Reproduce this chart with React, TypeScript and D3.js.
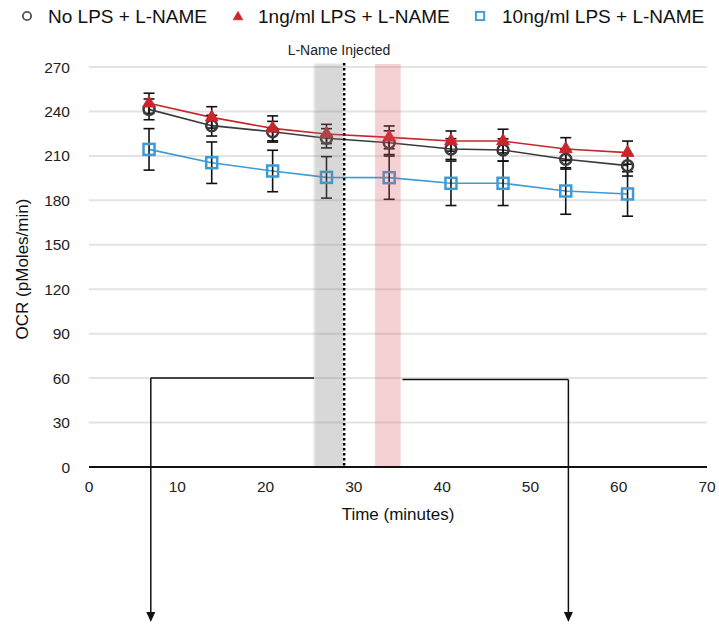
import React from "react";
import * as d3 from "d3";

// Measurement times (minutes)
const times = [6.8, 13.9, 20.8, 26.9, 34.0, 41.0, 46.9, 54.0, 61.0];

// OCR means and error (pMoles/min)
const noLps = [241.4, 230.4, 226.3, 221.9, 218.9, 214.6, 214.0, 207.7, 203.4];
const noLpsErr = [7, 7, 7, 6.5, 8, 7, 7.5, 6.6, 7];
const lps1 = [245.5, 236.0, 228.6, 224.8, 222.5, 220.0, 220.0, 214.6, 212.2];
const lps1Err = [6.8, 7.2, 8.4, 6.5, 7.7, 6.8, 8, 7.7, 7.8];
const lps10 = [214.4, 205.4, 199.8, 195.5, 195.3, 191.5, 191.5, 186.3, 184.3];
const lps10Err = [14, 14, 14, 14, 14.6, 15, 15, 15.7, 15];

const legendLabels = ["No LPS + L-NAME", "1ng/ml LPS + L-NAME", "10ng/ml LPS + L-NAME"];
const yTicks = [0, 30, 60, 90, 120, 150, 180, 210, 240, 270];
const xTicks = [0, 10, 20, 30, 40, 50, 60, 70];

// Shaded windows and injection time (minutes)
const greyBand = [25.5, 28.8];
const pinkBand = [32.4, 35.3];
const injectTime = 28.9;
// Bracket annotation: [x start, x end, y level]
const bracketLeft = [7.0, 25.5, 60];
const bracketRight = [35.5, 54.3, 59];

const FONT = "'Liberation Sans', Arial, Helvetica, sans-serif";

export default function App() {
  const x = d3.scaleLinear().domain([0, 70]).range([89, 707]);
  const y = d3.scaleLinear().domain([0, 270]).range([467, 67]);

  const line = d3
    .line<number>()
    .x((_, i) => x(times[i]))
    .y((d) => y(d));

  const series = [
    { vals: noLps, err: noLpsErr, color: "#3a3a3a", shape: "circle" },
    { vals: lps1, err: lps1Err, color: "#c8262c", shape: "triangle" },
    { vals: lps10, err: lps10Err, color: "#3d9ad4", shape: "square" },
  ];

  const tri = d3.symbol().type(d3.symbolTriangle).size(70)();

  const marker = (shape: string, cx: number, cy: number, color: string, key: any, scale = 1) => {
    if (shape === "circle")
      return <circle key={key} cx={cx} cy={cy} r={5.5 * scale} fill="none" stroke={color} strokeWidth={2.5 * scale} />;
    if (shape === "triangle")
      return <path key={key} d={tri || ""} transform={`translate(${cx},${cy}) scale(${scale})`} fill={color} stroke={color} strokeWidth={1} />;
    const s = 11 * scale;
    return <rect key={key} x={cx - s / 2} y={cy - s / 2} width={s} height={s} fill="none" stroke={color} strokeWidth={2.5 * scale} />;
  };

  const arrow = (xv: number) => {
    const px = x(xv);
    const yTop = y(xv < 30 ? bracketLeft[2] : bracketRight[2]);
    return (
      <g key={xv}>
        <line x1={px} x2={px} y1={yTop} y2={612} stroke="#111" strokeWidth={1.5} />
        <path d={`M${px - 4.5},${612} L${px + 4.5},${612} L${px},${622} Z`} fill="#111" />
      </g>
    );
  };

  return (
    <svg
      width={719}
      height={630}
      style={{ position: "absolute", left: 0, top: 0, background: "#fff" }}
      fontFamily={FONT}
    >
      <defs>
        <filter id="soft" x="-20%" y="-2%" width="140%" height="104%">
          <feGaussianBlur stdDeviation="0.8" />
        </filter>
      </defs>

      {/* legend */}
      <g fontSize={19} fill="#111">
        {marker("circle", 27, 16, "#555", "lg0", 0.75)}
        <text x={48} y={23}>{legendLabels[0]}</text>
        {marker("triangle", 238, 17, "#c8262c", "lg1", 0.75)}
        <text x={258} y={23}>{legendLabels[1]}</text>
        {marker("square", 480, 16, "#3d9ad4", "lg2", 0.75)}
        <text x={502} y={23}>{legendLabels[2]}</text>
      </g>

      <text x={339} y={55} fontSize={14} textAnchor="middle" fill="#222">L-Name Injected</text>

      {/* gridlines */}
      {yTicks.filter((t) => t > 0).map((t) => (
        <line key={t} x1={x(0)} x2={x(70)} y1={y(t)} y2={y(t)} stroke="#e3e3e3" strokeWidth={2} />
      ))}

      {/* y tick labels */}
      {yTicks.map((t) => (
        <text key={t} x={70} y={y(t) + 5.5} fontSize={15.5} textAnchor="end" fill="#222">{t}</text>
      ))}

      {/* x tick labels */}
      {xTicks.map((t) => (
        <text key={t} x={x(t)} y={492} fontSize={15.5} textAnchor="middle" fill="#222">{t}</text>
      ))}

      <text x={398} y={520} fontSize={17} textAnchor="middle" fill="#111">Time (minutes)</text>
      <text transform={`translate(28,269) rotate(-90)`} fontSize={17} textAnchor="middle" fill="#111">OCR (pMoles/min)</text>

      {/* bracket annotation */}
      <polyline
        points={`${x(bracketLeft[0])},${y(bracketLeft[2])} ${x(bracketLeft[1])},${y(bracketLeft[2])}`}
        fill="none" stroke="#111" strokeWidth={1.5}
      />
      <polyline
        points={`${x(bracketRight[0])},${y(bracketRight[2])} ${x(bracketRight[1])},${y(bracketRight[2])}`}
        fill="none" stroke="#111" strokeWidth={1.5}
      />
      {arrow(bracketLeft[0])}
      {arrow(bracketRight[1])}

      {/* series lines */}
      {series.map((s, i) => (
        <path key={i} d={line(s.vals) || ""} fill="none" stroke={s.color} strokeWidth={1.6} />
      ))}

      {/* error bars */}
      {series.map((s, i) =>
        s.vals.map((v, j) => {
          const cx = x(times[j]);
          const top = y(v + s.err[j]);
          const bot = y(v - s.err[j]);
          return (
            <g key={`e${i}-${j}`} stroke="#111" strokeWidth={1.6}>
              <line x1={cx} x2={cx} y1={top} y2={bot} />
              <line x1={cx - 5.5} x2={cx + 5.5} y1={top} y2={top} />
              <line x1={cx - 5.5} x2={cx + 5.5} y1={bot} y2={bot} />
            </g>
          );
        })
      )}

      {/* markers */}
      {series.map((s, i) => s.vals.map((v, j) => marker(s.shape, x(times[j]), y(v), s.color, `m${i}-${j}`)))}

      {/* shaded windows */}
      <rect
        x={x(greyBand[0])} width={x(greyBand[1]) - x(greyBand[0])} y={64} height={y(0) - 64}
        fill="rgb(128,128,128)" fillOpacity={0.31} filter="url(#soft)"
      />
      <rect
        x={x(pinkBand[0])} width={x(pinkBand[1]) - x(pinkBand[0])} y={64} height={y(0) - 64}
        fill="rgb(220,90,100)" fillOpacity={0.28}
      />

      {/* x axis */}
      <line x1={x(0)} x2={x(70)} y1={y(0)} y2={y(0)} stroke="#111" strokeWidth={2} />

      {/* injection marker */}
      <line x1={x(injectTime)} x2={x(injectTime)} y1={63} y2={y(0)} stroke="#000" strokeWidth={2.5} strokeDasharray="2.5,2.5" />
    </svg>
  );
}
